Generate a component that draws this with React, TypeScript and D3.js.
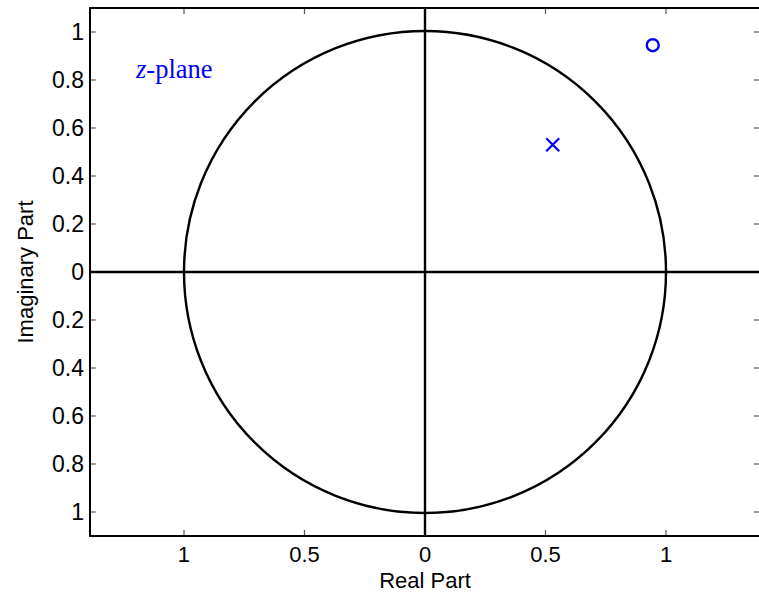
import React, { useEffect, useRef } from 'react';
import * as d3 from 'd3';

const xTicks = [-1, -0.5, 0, 0.5, 1];
const yTicks = [-1, -0.8, -0.6, -0.4, -0.2, 0, 0.2, 0.4, 0.6, 0.8, 1];
const poles = [{ re: 0.53, im: 0.53 }];
const zeros = [{ re: 0.945, im: 0.945 }];
const xDomain = [-1.39, 1.39];
const yDomain = [-1.1, 1.1];

// minus signs are missing in the original labels
const fmt = (v: number) => (v === 0 ? '0' : String(Math.abs(v)));

const App = () => {
  const svgRef = useRef<SVGSVGElement>(null);

  useEffect(() => {
    const svg = d3.select(svgRef.current);
    svg.selectAll('*').remove();

    const left = 90, right = 760, top = 8, bottom = 536;
    const x = d3.scaleLinear().domain(xDomain).range([left, right]);
    const y = d3.scaleLinear().domain(yDomain).range([bottom, top]);
    const font = '"Liberation Sans", Arial, sans-serif';

    const g = svg.append('g');

    // inward ticks on all four sides
    const tickLen = 6;
    xTicks.forEach((t) => {
      g.append('line').attr('x1', x(t)).attr('x2', x(t)).attr('y1', bottom).attr('y2', bottom - tickLen)
        .attr('stroke', '#555').attr('stroke-width', 1.2);
      g.append('line').attr('x1', x(t)).attr('x2', x(t)).attr('y1', top).attr('y2', top + tickLen)
        .attr('stroke', '#555').attr('stroke-width', 1.2);
      g.append('text').attr('x', x(t)).attr('y', 562).attr('text-anchor', 'middle')
        .attr('font-family', font).attr('font-size', 22).text(fmt(t));
    });
    yTicks.forEach((t) => {
      g.append('line').attr('x1', left).attr('x2', left + tickLen).attr('y1', y(t)).attr('y2', y(t))
        .attr('stroke', '#555').attr('stroke-width', 1.2);
      g.append('line').attr('x1', right).attr('x2', right - tickLen).attr('y1', y(t)).attr('y2', y(t))
        .attr('stroke', '#555').attr('stroke-width', 1.2);
      g.append('text').attr('x', left - 6).attr('y', y(t)).attr('dy', '0.36em').attr('text-anchor', 'end')
        .attr('font-family', font).attr('font-size', 23).text(fmt(t));
    });

    // frame
    g.append('rect').attr('x', left).attr('y', top).attr('width', right - left).attr('height', bottom - top)
      .attr('fill', 'none').attr('stroke', '#000').attr('stroke-width', 2);

    // unit circle and axes through origin
    const r = x(1) - x(0);
    g.append('circle').attr('cx', x(0)).attr('cy', y(0)).attr('r', r)
      .attr('fill', 'none').attr('stroke', '#000').attr('stroke-width', 2.4);
    g.append('line').attr('x1', left).attr('x2', right).attr('y1', y(0)).attr('y2', y(0))
      .attr('stroke', '#000').attr('stroke-width', 2.4);
    g.append('line').attr('x1', x(0)).attr('x2', x(0)).attr('y1', top).attr('y2', bottom)
      .attr('stroke', '#000').attr('stroke-width', 2.4);

    // poles (x) and zeros (o)
    const s = 6.5;
    poles.forEach((p) => {
      const cx = x(p.re), cy = y(p.im);
      g.append('path').attr('d', `M${cx - s},${cy - s}L${cx + s},${cy + s}M${cx - s},${cy + s}L${cx + s},${cy - s}`)
        .attr('stroke', '#0000ff').attr('stroke-width', 2.2).attr('fill', 'none');
    });
    zeros.forEach((z) => {
      g.append('circle').attr('cx', x(z.re)).attr('cy', y(z.im)).attr('r', 6)
        .attr('stroke', '#0000ff').attr('stroke-width', 2.4).attr('fill', 'none');
    });

    // z-plane label
    const lbl = g.append('text').attr('x', 136).attr('y', 78)
      .attr('font-family', '"Liberation Serif", "Times New Roman", serif').attr('font-size', 26.5).attr('fill', '#0000ff');
    lbl.append('tspan').attr('font-style', 'italic').text('z');
    lbl.append('tspan').text('-plane');

    // axis labels
    g.append('text').attr('x', 425).attr('y', 588).attr('text-anchor', 'middle')
      .attr('font-family', font).attr('font-size', 22).text('Real Part');
    g.append('text').attr('transform', `translate(33,${y(0)}) rotate(-90)`).attr('text-anchor', 'middle')
      .attr('font-family', font).attr('font-size', 22).text('Imaginary Part');
  }, []);

  return (
    <svg ref={svgRef} width={759} height={592} style={{ position: 'absolute', left: 0, top: 0 }} />
  );
};

export default App;
